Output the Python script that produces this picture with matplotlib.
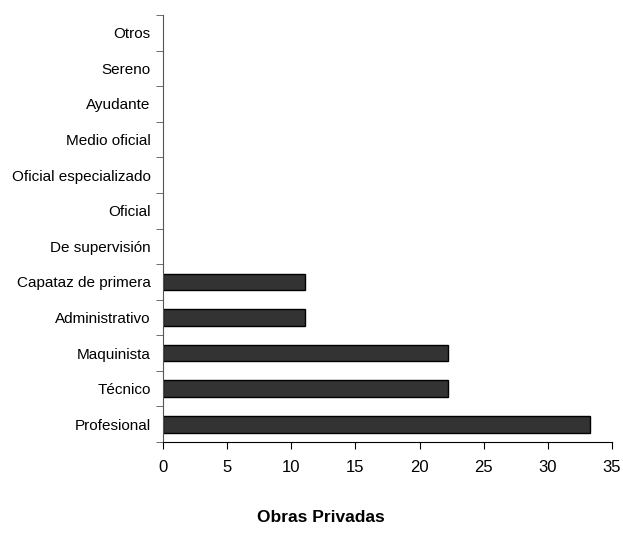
import matplotlib.pyplot as plt
import numpy as np

plt.rcParams['font.family'] = ['Liberation Sans', 'DejaVu Sans']

categories = ["Profesional", "Técnico", "Maquinista", "Administrativo",
              "Capataz de primera", "De supervisión", "Oficial",
              "Oficial especializado", "Medio oficial", "Ayudante",
              "Sereno", "Otros"]
values = [33.3, 22.2, 22.2, 11.1, 11.1, 0, 0, 0, 0, 0, 0, 0]
xticks = [0, 5, 10, 15, 20, 25, 30, 35]

fig = plt.figure(figsize=(6.23, 5.45), dpi=100)
ax = fig.add_axes([163/623, 1-442/545, (612-163)/623, (442-15)/545])

y = np.arange(len(categories))
lw = [1 if v > 0 else 0 for v in values]
ax.barh(y, values, height=0.47, color="#333333", edgecolor="black", linewidth=lw)

ax.set_xlim(0, 35)
ax.set_ylim(-0.5, len(categories)-0.5)
ax.set_xticks(xticks)
ax.set_xticklabels([str(t) for t in xticks], fontsize=12)
ax.set_yticks(y)
ax.set_yticklabels(categories, fontsize=11)
ax.set_yticks(np.arange(-0.5, len(categories)), minor=True)
ax.tick_params(axis='y', which='major', length=0, pad=9)
ax.tick_params(axis='y', which='minor', length=5, direction='out', color='#555555')
ax.tick_params(axis='x', length=5, direction='out', pad=8)

ax.spines['top'].set_visible(False)
ax.spines['right'].set_visible(False)
ax.spines['left'].set_color('#555555')

fig.text(321/623, 1-517/545, "Obras Privadas", ha='center', va='center',
         fontsize=12.5, fontweight='bold')

fig.savefig("out.png", dpi=100)
